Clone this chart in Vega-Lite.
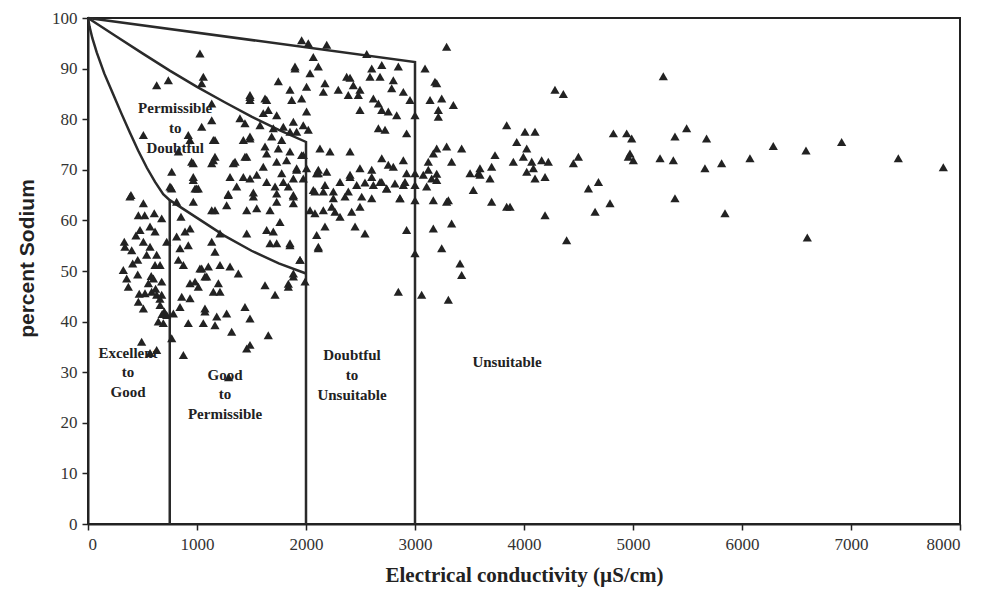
{
  "$schema": "https://vega.github.io/schema/vega-lite/v6.json",
  "autosize": {"type": "none"},
  "width": 872,
  "height": 506,
  "padding": {"left": 88, "top": 18, "right": 37, "bottom": 69},
  "background": "white",
  "config": {
    "view": {"stroke": "#222", "strokeWidth": 2},
    "axis": {"grid": false, "domainColor": "#222", "domainWidth": 2, "tickColor": "#222", "tickWidth": 1.5, "tickSize": 6,
      "labelFont": "Liberation Serif", "labelFontSize": 17, "labelColor": "#333",
      "titleFont": "Liberation Serif", "titleFontWeight": "bold", "titleFontSize": 21, "titleColor": "#222"}
  },
  "datasets": {
    "pts": [
      {"ec":394,"na":65},{"ec":508,"na":63.4},{"ec":462,"na":61},{"ec":608,"na":61.4},{"ec":676,"na":60.4},{"ec":477,"na":58.1},{"ec":569,"na":58.8},{"ec":615,"na":57.8},{"ec":333,"na":55.8},{"ec":339,"na":54.8},{"ec":401,"na":54.1},{"ec":508,"na":55.8},{"ec":569,"na":54.8},{"ec":630,"na":53.2},{"ec":456,"na":52.2},{"ec":538,"na":53.2},{"ec":615,"na":51.2},{"ec":661,"na":51.2},{"ec":324,"na":50.2},{"ec":355,"na":48.5},{"ec":456,"na":49.3},{"ec":370,"na":46.9},{"ec":600,"na":48.5},{"ec":554,"na":47.6},{"ec":676,"na":47.9},{"ec":523,"na":45.6},{"ec":584,"na":45.9},{"ec":630,"na":45.3},{"ec":676,"na":45.3},{"ec":462,"na":43.9},{"ec":508,"na":42.6},{"ec":661,"na":43.3},{"ec":645,"na":40},{"ec":691,"na":39.7},{"ec":492,"na":36},{"ec":630,"na":34.4},{"ec":722,"na":55.8},{"ec":722,"na":41.3},{"ec":385,"na":64.7},{"ec":508,"na":76.9},{"ec":630,"na":86.7},{"ec":737,"na":87.7},{"ec":569,"na":33.8},{"ec":700,"na":42},{"ec":660,"na":44.5},{"ec":620,"na":46.5},{"ec":580,"na":49},{"ec":440,"na":57},{"ec":520,"na":61},{"ec":470,"na":45.5},{"ec":680,"na":41.5},{"ec":410,"na":51.5},
      {"ec":761,"na":66.5},{"ec":813,"na":63.7},{"ec":966,"na":63.7},{"ec":982,"na":66.3},{"ec":853,"na":60.7},{"ec":890,"na":57.8},{"ec":813,"na":56.8},{"ec":936,"na":58.4},{"ec":844,"na":54.5},{"ec":920,"na":55.1},{"ec":829,"na":52.2},{"ec":875,"na":51.2},{"ec":1027,"na":50.5},{"ec":1104,"na":50.9},{"ec":936,"na":47.6},{"ec":982,"na":47.9},{"ec":1012,"na":46.9},{"ec":1073,"na":48.9},{"ec":860,"na":44.9},{"ec":936,"na":44.6},{"ec":783,"na":41.6},{"ec":844,"na":42.9},{"ec":920,"na":39.7},{"ec":1073,"na":42},{"ec":1058,"na":39.7},{"ec":768,"na":36.7},{"ec":875,"na":33.4},
      {"ec":1135,"na":62},{"ec":1165,"na":62},{"ec":1272,"na":63},{"ec":1287,"na":65},{"ec":1012,"na":66.3},{"ec":1364,"na":66.7},{"ec":1517,"na":64.7},{"ec":1456,"na":62},{"ec":1548,"na":62.4},{"ec":1670,"na":62},{"ec":1731,"na":63.7},{"ec":1761,"na":59.7},{"ec":1456,"na":57.4},{"ec":1639,"na":58.1},{"ec":1700,"na":57.8},{"ec":1670,"na":55.5},{"ec":1731,"na":55.5},{"ec":1853,"na":55.5},{"ec":1211,"na":57.4},{"ec":1135,"na":55.8},{"ec":1165,"na":53.8},{"ec":1043,"na":50.5},{"ec":1211,"na":51.2},{"ec":1303,"na":50.9},{"ec":1379,"na":49.5},{"ec":1089,"na":48.9},{"ec":1196,"na":47.6},{"ec":1211,"na":45.9},{"ec":1150,"na":45.9},{"ec":1624,"na":47.2},{"ec":1716,"na":45.3},{"ec":1838,"na":46.9},{"ec":1884,"na":48.9},{"ec":1945,"na":52.2},{"ec":1991,"na":47.9},{"ec":1073,"na":42.6},{"ec":1181,"na":41},{"ec":1272,"na":41.6},{"ec":1440,"na":42.9},{"ec":1486,"na":40.6},{"ec":1165,"na":39.3},{"ec":1318,"na":38},{"ec":1456,"na":34.7},{"ec":1486,"na":35.4},{"ec":1654,"na":37.3},{"ec":1290,"na":29},
      {"ec":1027,"na":93},{"ec":1058,"na":88.4},{"ec":1043,"na":87.1},{"ec":1135,"na":83.1},{"ec":1135,"na":79.8},{"ec":1043,"na":78.5},{"ec":920,"na":76.9},{"ec":936,"na":75.9},{"ec":1165,"na":75.9},{"ec":829,"na":73.6},{"ec":951,"na":71.6},{"ec":1135,"na":71.3},{"ec":1165,"na":72.6},{"ec":768,"na":69.6},{"ec":966,"na":68.6},{"ec":752,"na":66.7},{"ec":997,"na":66.3},{"ec":1349,"na":71.6},{"ec":1456,"na":72.6},{"ec":1303,"na":68.6},{"ec":1425,"na":68.6},{"ec":1486,"na":76.6},{"ec":1425,"na":75.9},{"ec":1394,"na":80.2},{"ec":1440,"na":79.2},{"ec":1486,"na":84.8},{"ec":1486,"na":83.8},{"ec":1639,"na":83.8},{"ec":1654,"na":81.8},{"ec":1746,"na":87.5},{"ec":1853,"na":85.8},{"ec":1869,"na":83.8},{"ec":1960,"na":84.1},{"ec":1899,"na":90.4},{"ec":2005,"na":86.4},{"ec":1960,"na":95.6},{"ec":2021,"na":95},{"ec":1731,"na":80.8},{"ec":1608,"na":81.2},{"ec":1578,"na":78.8},{"ec":1700,"na":78.2},{"ec":1792,"na":78.5},{"ec":1884,"na":79.5},{"ec":1975,"na":78.8},{"ec":1685,"na":76.6},{"ec":1777,"na":75.9},{"ec":1853,"na":77.5},{"ec":1914,"na":77.5},{"ec":1624,"na":74.6},{"ec":1639,"na":73.2},{"ec":1746,"na":74.2},{"ec":1853,"na":73.6},{"ec":1960,"na":72.9},{"ec":1731,"na":71.6},{"ec":1822,"na":71.9},{"ec":1914,"na":70},{"ec":1608,"na":70.6},{"ec":1548,"na":69},{"ec":1486,"na":68.3},{"ec":1639,"na":67.6},{"ec":1777,"na":69.3},{"ec":1792,"na":67.6},{"ec":1716,"na":66.7},{"ec":1884,"na":68.3},{"ec":1975,"na":68.3},{"ec":1287,"na":65.2},{"ec":1517,"na":65.5},{"ec":1731,"na":65.3},{"ec":1884,"na":65},{"ec":768,"na":66.3},{"ec":966,"na":71.3},{"ec":966,"na":68},{"ec":1150,"na":71.9},{"ec":1150,"na":75.9},{"ec":1333,"na":71.3},{"ec":1440,"na":72.6},{"ec":1486,"na":76.2},{"ec":1486,"na":84.4},{"ec":1624,"na":84.1},{"ec":1899,"na":90},{"ec":1838,"na":66.7},{"ec":1884,"na":64.7},{"ec":1884,"na":63.4},{"ec":1853,"na":55.1},{"ec":1884,"na":49.5},{"ec":1838,"na":47.5},
      {"ec":2190,"na":94.7},{"ec":2067,"na":92.3},{"ec":2557,"na":92.9},{"ec":2113,"na":90.4},{"ec":2037,"na":89.1},{"ec":2603,"na":90},{"ec":2695,"na":90.7},{"ec":2847,"na":90.4},{"ec":2679,"na":88.4},{"ec":2587,"na":88.4},{"ec":3092,"na":90},{"ec":2373,"na":88.4},{"ec":2404,"na":88.2},{"ec":2434,"na":86.7},{"ec":2174,"na":87.1},{"ec":2159,"na":85.4},{"ec":2296,"na":85.8},{"ec":2388,"na":84.8},{"ec":2495,"na":85.8},{"ec":2480,"na":84.8},{"ec":2801,"na":87.7},{"ec":2786,"na":86.1},{"ec":2893,"na":85.4},{"ec":2954,"na":83.8},{"ec":2618,"na":84.1},{"ec":2664,"na":83.1},{"ec":2695,"na":81.8},{"ec":2755,"na":81.5},{"ec":2832,"na":80.8},{"ec":3000,"na":80.8},{"ec":2495,"na":81.8},{"ec":2005,"na":81.5},{"ec":2664,"na":78.2},{"ec":2725,"na":77.9},{"ec":2923,"na":77.2},{"ec":2021,"na":77.9},{"ec":2128,"na":74.2},{"ec":2220,"na":73.6},{"ec":2404,"na":73.6},{"ec":2695,"na":72.3},{"ec":2893,"na":71.9},{"ec":2495,"na":70.3},{"ec":2603,"na":70},{"ec":2755,"na":71},{"ec":2801,"na":70.6},{"ec":2113,"na":70},{"ec":2190,"na":69.6},{"ec":3000,"na":69.3},{"ec":1975,"na":72.9},{"ec":1914,"na":70.3},{"ec":2005,"na":70.3},{"ec":2113,"na":69.3},{"ec":2603,"na":68.6},{"ec":2097,"na":69.3},{"ec":2312,"na":67.6},{"ec":2404,"na":69},{"ec":2465,"na":67},{"ec":2618,"na":67},{"ec":2679,"na":67.6},{"ec":2740,"na":66.3},{"ec":2816,"na":67.3},{"ec":2893,"na":67},{"ec":2923,"na":69.3},{"ec":2067,"na":66},{"ec":2159,"na":65.7},{"ec":2251,"na":65.7},{"ec":2358,"na":64.7},{"ec":2511,"na":64.7},{"ec":2603,"na":64.4},{"ec":2862,"na":64.4},{"ec":2082,"na":65.7},{"ec":2174,"na":67},{"ec":2388,"na":65.7},{"ec":2404,"na":68.6},{"ec":2541,"na":67.5},{"ec":2695,"na":67.6},{"ec":2740,"na":66.3},{"ec":2908,"na":67.6},{"ec":3000,"na":67},{"ec":3000,"na":64},{"ec":2862,"na":64.4},{"ec":2037,"na":62},{"ec":2082,"na":61.4},{"ec":2159,"na":62},{"ec":2251,"na":64.4},{"ec":2236,"na":62.7},{"ec":2266,"na":61.7},{"ec":2312,"na":60.7},{"ec":2419,"na":61.7},{"ec":2495,"na":62.7},{"ec":2174,"na":58.8},{"ec":2098,"na":57.1},{"ec":2450,"na":58.8},{"ec":2541,"na":57.4},{"ec":2923,"na":58.1},{"ec":2113,"na":54.8},{"ec":2113,"na":54.5},{"ec":3000,"na":53.5},{"ec":2847,"na":45.9},{"ec":1945,"na":52.2},
      {"ec":3290,"na":94.3},{"ec":3183,"na":87.4},{"ec":3199,"na":87.1},{"ec":3138,"na":83.8},{"ec":3245,"na":84.1},{"ec":3214,"na":81.8},{"ec":3214,"na":80.5},{"ec":3352,"na":82.8},{"ec":3199,"na":74.2},{"ec":3290,"na":74.6},{"ec":3428,"na":74.2},{"ec":3122,"na":71.6},{"ec":3336,"na":71.6},{"ec":3076,"na":69},{"ec":3199,"na":68},{"ec":3107,"na":66.7},{"ec":3306,"na":64},{"ec":3505,"na":69.3},{"ec":3535,"na":66},{"ec":3581,"na":69.3},{"ec":3168,"na":73.2},{"ec":3153,"na":68.3},{"ec":3168,"na":64},{"ec":3290,"na":63.7},{"ec":3168,"na":58.4},{"ec":3336,"na":59.4},{"ec":3245,"na":54.5},{"ec":3413,"na":51.5},{"ec":3428,"na":49.2},{"ec":3061,"na":45.3},{"ec":3306,"na":44.3},{"ec":3199,"na":69.2},{"ec":3122,"na":70},
      {"ec":4284,"na":85.8},{"ec":4361,"na":85},{"ec":5278,"na":88.5},{"ec":3841,"na":78.8},{"ec":4009,"na":77.5},{"ec":4101,"na":77.5},{"ec":3933,"na":75.5},{"ec":4025,"na":74.2},{"ec":3994,"na":72.6},{"ec":3902,"na":71.6},{"ec":4071,"na":71.6},{"ec":4162,"na":71.9},{"ec":4223,"na":71.6},{"ec":4025,"na":69.6},{"ec":4086,"na":70.3},{"ec":4101,"na":68.3},{"ec":4193,"na":68.6},{"ec":3734,"na":72.9},{"ec":3703,"na":70.6},{"ec":3596,"na":70.3},{"ec":3596,"na":69},{"ec":3688,"na":68.3},{"ec":3703,"na":63.7},{"ec":3841,"na":62.7},{"ec":3872,"na":62.7},{"ec":4193,"na":61},{"ec":4391,"na":56.1},{"ec":4499,"na":72.6},{"ec":4453,"na":71.3},{"ec":4591,"na":66.3},{"ec":4683,"na":67.6},{"ec":4652,"na":61.7},{"ec":4789,"na":63.4},{"ec":4820,"na":77.2},{"ec":4942,"na":77.2},{"ec":4988,"na":76.2},{"ec":4972,"na":73.2},{"ec":4957,"na":72.6},{"ec":5003,"na":71.9},{"ec":5248,"na":72.3},{"ec":5370,"na":71.9},{"ec":5385,"na":76.6},{"ec":5492,"na":78.2},{"ec":5675,"na":76.2},{"ec":5660,"na":70.3},{"ec":5813,"na":71.3},{"ec":5385,"na":64.4},{"ec":5844,"na":61.4},{"ec":6073,"na":72.3},{"ec":6287,"na":74.7},{"ec":6587,"na":73.8},{"ec":6599,"na":56.6},{"ec":6914,"na":75.5},{"ec":7434,"na":72.3},{"ec":7847,"na":70.5}
    ],
    "lines": [
      {"s":"outer","o":1,"ec":0,"na":100},{"s":"outer","o":2,"ec":3000,"na":91.3},{"s":"outer","o":3,"ec":3000,"na":0},
      {"s":"mid","o":1,"ec":0,"na":100},{"s":"mid","o":2,"ec":250,"na":96.5},{"s":"mid","o":3,"ec":500,"na":93},{"s":"mid","o":4,"ec":750,"na":89.6},{"s":"mid","o":5,"ec":1000,"na":86.4},{"s":"mid","o":6,"ec":1250,"na":83.4},{"s":"mid","o":7,"ec":1500,"na":80.5},{"s":"mid","o":8,"ec":1750,"na":77.9},{"s":"mid","o":9,"ec":2000,"na":75.5},{"s":"mid","o":10,"ec":2000,"na":0},
      {"s":"inner","o":1,"ec":0,"na":100},{"s":"inner","o":2,"ec":15,"na":98.2},{"s":"inner","o":3,"ec":40,"na":96},{"s":"inner","o":4,"ec":80,"na":93.2},{"s":"inner","o":5,"ec":150,"na":89},{"s":"inner","o":6,"ec":230,"na":85},{"s":"inner","o":7,"ec":305,"na":81.2},{"s":"inner","o":8,"ec":385,"na":77.3},{"s":"inner","o":9,"ec":460,"na":73.8},{"s":"inner","o":10,"ec":540,"na":70.4},{"s":"inner","o":11,"ec":615,"na":67.6},{"s":"inner","o":12,"ec":690,"na":65.2},{"s":"inner","o":13,"ec":750,"na":64},{"s":"inner","o":14,"ec":1000,"na":60.5},{"s":"inner","o":15,"ec":1250,"na":57},{"s":"inner","o":16,"ec":1500,"na":54},{"s":"inner","o":17,"ec":1750,"na":51.5},{"s":"inner","o":18,"ec":2000,"na":49.5},
      {"s":"v750","o":1,"ec":750,"na":64},{"s":"v750","o":2,"ec":750,"na":0}
    ],
    "labels": [
      {"ec":800,"na":82.2,"t":"Permissible"},{"ec":800,"na":78.3,"t":"to"},{"ec":800,"na":74.3,"t":"Doubtful"},
      {"ec":367,"na":33.8,"t":"Excellent"},{"ec":367,"na":30,"t":"to"},{"ec":367,"na":26,"t":"Good"},
      {"ec":1257,"na":29.4,"t":"Good"},{"ec":1257,"na":25.6,"t":"to"},{"ec":1257,"na":21.8,"t":"Permissible"},
      {"ec":2422,"na":33.4,"t":"Doubtful"},{"ec":2422,"na":29.4,"t":"to"},{"ec":2422,"na":25.4,"t":"Unsuitable"},
      {"ec":3844,"na":32,"t":"Unsuitable"}
    ]
  },
  "layer": [
    {
      "data": {"name": "lines"},
      "mark": {"type": "line", "color": "#2a2a2a", "strokeWidth": 2.5},
      "encoding": {
        "x": {"field": "ec", "type": "quantitative", "scale": {"domain": [0, 8000], "nice": false},
          "axis": {"values": [0,1000,2000,3000,4000,5000,6000,7000,8000], "format": "d", "title": "Electrical conductivity (µS/cm)", "titlePadding": 12, "labelPadding": 6}},
        "y": {"field": "na", "type": "quantitative", "scale": {"domain": [0, 100], "nice": false},
          "axis": {"values": [0,10,20,30,40,50,60,70,80,90,100], "title": "percent Sodium", "titleFont": "Liberation Sans", "titleFontSize": 21, "titlePadding": 14, "labelPadding": 5, "titleY": 240}},
        "detail": {"field": "s"},
        "order": {"field": "o"}
      }
    },
    {
      "data": {"name": "pts"},
      "mark": {"type": "point", "shape": "triangle-up", "filled": true, "color": "#222", "opacity": 1, "size": 85},
      "encoding": {
        "x": {"field": "ec", "type": "quantitative"},
        "y": {"field": "na", "type": "quantitative"}
      }
    },
    {
      "data": {"name": "labels"},
      "mark": {"type": "text", "font": "Liberation Serif", "fontWeight": "bold", "fontSize": 15, "color": "#222", "align": "center", "baseline": "middle"},
      "encoding": {
        "x": {"field": "ec", "type": "quantitative"},
        "y": {"field": "na", "type": "quantitative"},
        "text": {"field": "t"}
      }
    }
  ]
}
